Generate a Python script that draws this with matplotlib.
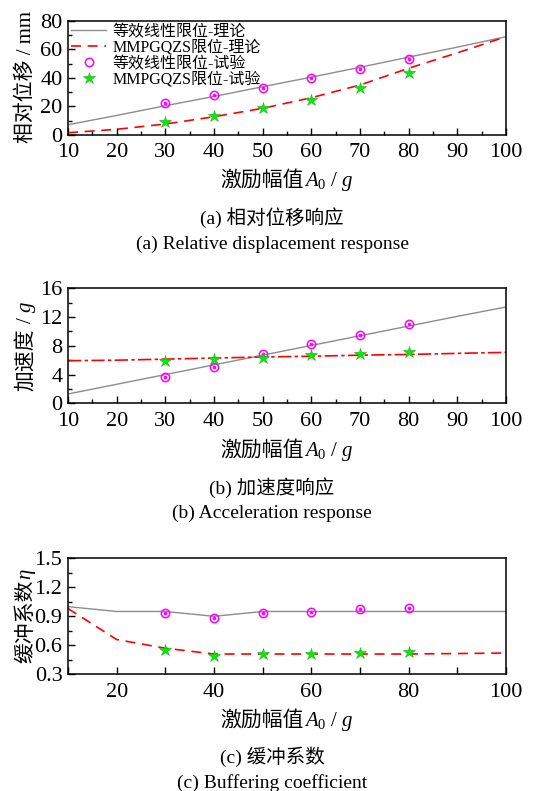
import numpy as np
import matplotlib
matplotlib.use("Agg")
import matplotlib.pyplot as plt
from matplotlib.ticker import MultipleLocator, FormatStrFormatter

plt.rcParams['font.family'] = ['Liberation Serif', 'Noto Sans CJK SC']
plt.rcParams['mathtext.fontset'] = 'custom'
plt.rcParams['mathtext.rm'] = 'Liberation Serif'
plt.rcParams['mathtext.it'] = 'Liberation Serif:italic'

# excitation amplitude A0 / g
x_theory = [10, 20, 30, 40, 50, 60, 70, 80, 90, 100]
x_test = [30, 40, 50, 60, 70, 80]

# (a) relative displacement / mm
disp_lin_theory = [7.2, 13.7, 20.5, 27.0, 33.8, 40.5, 47.4, 54.5, 61.5, 68.8]
disp_mm_theory = [1.6, 4.0, 7.7, 12.8, 18.7, 26.1, 35.0, 46.7, 57.5, 68.8]
disp_lin_test = [22.2, 27.8, 32.7, 40.1, 46.0, 53.0]
disp_mm_test = [9.1, 13.5, 18.7, 24.5, 33.1, 43.4]

# (b) acceleration / g
acc_lin_theory = [1.3, 2.65, 4.0, 5.35, 6.7, 8.05, 9.4, 10.75, 12.1, 13.4]
acc_mm_theory = [5.93, 6.0, 6.15, 6.3, 6.45, 6.55, 6.7, 6.8, 6.95, 7.09]
acc_lin_test = [3.7, 5.05, 6.8, 8.2, 9.5, 11.0]
acc_mm_test = [5.93, 6.12, 6.35, 6.7, 6.9, 7.13]

# (c) buffering coefficient
eta_lin_theory = [1.0, 0.95, 0.95, 0.90, 0.95, 0.95, 0.95, 0.95, 0.95, 0.95]
eta_mm_theory = [0.98, 0.66, 0.57, 0.51, 0.51, 0.51, 0.51, 0.51, 0.515, 0.52]
eta_lin_test = [0.93, 0.885, 0.937, 0.947, 0.975, 0.986]
eta_mm_test = [0.55, 0.486, 0.507, 0.514, 0.52, 0.535]

labels = ['等效线性限位-理论', 'MMPGQZS限位-理论', '等效线性限位-试验', 'MMPGQZS限位-试验']

W, H = 544, 791
fig = plt.figure(figsize=(W / 100, H / 100), dpi=100)
ax_a = fig.add_axes([0.125, 0.8293, 0.805, 0.1445])
ax_b = fig.add_axes([0.125, 0.4901, 0.805, 0.1454])
ax_c = fig.add_axes([0.125, 0.1475, 0.805, 0.1467])
renderer = fig.canvas.get_renderer()


def split_label(parts, x, y, vertical=False, fs=15):
    """Draw CJK text and mathtext pieces one after another, centred on (x, y) in
    pixels from the top-left (mathtext has no CJK fallback)."""
    texts = [fig.text(0, 0, p, fontsize=fs, ha='left', va='baseline',
                      rotation=90 if vertical else 0, rotation_mode='anchor')
             for p in parts]
    ext = [t.get_window_extent(renderer) for t in texts]
    lens = [e.height if vertical else e.width for e in ext]
    start = -sum(lens) / 2
    for t, l in zip(texts, lens):
        if vertical:
            t.set_position((x / W, (H - y + start) / H))
        else:
            t.set_position(((x + start) / W, (H - y) / H))
        start += l


def draw(ax, lin_th, mm_th, lin_te, mm_te, mm_style):
    ax.plot(x_theory, lin_th, color='#8c8c8c', lw=1.0, label=labels[0])
    ax.plot(x_theory, mm_th, color='red', lw=1.2, linestyle=mm_style, label=labels[1])
    ax.plot(x_test, lin_te, linestyle='none', marker='o', ms=6, mfc='none',
            mec='#ff00ff', mew=1.1, label=labels[2])
    ax.plot(x_test, lin_te, linestyle='none', marker='o', ms=1.6, color='#ff00ff')
    ax.plot(x_test, mm_te, linestyle='none', marker='*', ms=9, color='#00ee00',
            mec='#22bb22', mew=0.5, label=labels[3])
    ax.set_xlim(10, 100)
    ax.tick_params(which='both', direction='in', labelsize=16, width=1, pad=4)
    ax.tick_params(axis='x', pad=6)
    ax.tick_params(which='major', length=5)
    ax.tick_params(which='minor', length=3)
    for s in ax.spines.values():
        s.set_linewidth(1.1)


dash = (0, (6, 4))
draw(ax_a, disp_lin_theory, disp_mm_theory, disp_lin_test, disp_mm_test, dash)
ax_a.set_ylim(0, 80)
ax_a.xaxis.set_major_locator(MultipleLocator(10))
ax_a.xaxis.set_minor_locator(MultipleLocator(5))
ax_a.yaxis.set_major_locator(MultipleLocator(20))
ax_a.yaxis.set_minor_locator(MultipleLocator(10))
ax_a.legend(loc='upper left', frameon=False, fontsize=11.5, handlelength=2.2,
            labelspacing=0.0, borderaxespad=0.1, handletextpad=0.4,
            borderpad=0.1)

draw(ax_b, acc_lin_theory, acc_mm_theory, acc_lin_test, acc_mm_test, (0, (8, 2, 2, 2)))
ax_b.set_ylim(0, 16)
ax_b.xaxis.set_major_locator(MultipleLocator(10))
ax_b.xaxis.set_minor_locator(MultipleLocator(5))
ax_b.yaxis.set_major_locator(MultipleLocator(4))
ax_b.yaxis.set_minor_locator(MultipleLocator(2))

draw(ax_c, eta_lin_theory, eta_mm_theory, eta_lin_test, eta_mm_test, dash)
ax_c.set_ylim(0.3, 1.5)
ax_c.xaxis.set_major_locator(MultipleLocator(20))
ax_c.xaxis.set_minor_locator(MultipleLocator(10))
ax_c.tick_params(axis='x', which='minor', length=5)
ax_c.yaxis.set_major_locator(MultipleLocator(0.3))
ax_c.yaxis.set_minor_locator(MultipleLocator(0.15))
ax_c.yaxis.set_major_formatter(FormatStrFormatter('%.1f'))

# axis titles
for yb in [186, 456, 726]:
    split_label(['激励幅值', r'$A_0$ / $g$'], 0.5275 * W, yb)
ylabels = [(['相对位移 / mm'], 77), (['加速度', r' / $g$'], 346), (['缓冲系数', r'$\eta$'], 616)]
for parts, yc in ylabels:
    split_label(parts, 31, yc, vertical=True)

captions = [('(a) 相对位移响应', 218), ('(a) Relative displacement response', 244),
            ('(b) 加速度响应', 488), ('(b) Acceleration response', 513),
            ('(c) 缓冲系数', 757), ('(c) Buffering coefficient', 783)]
for txt, ypix in captions:
    fig.text(0.5, 1 - ypix / H, txt, ha='center', va='center', fontsize=14)

fig.savefig('out.png', dpi=100)
